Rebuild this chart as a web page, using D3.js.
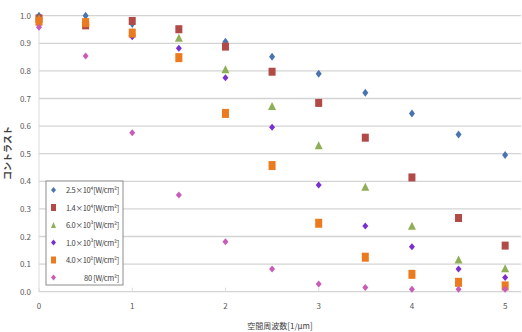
<!DOCTYPE html>
<html><head><meta charset="utf-8">
<script src="https://cdn.jsdelivr.net/npm/d3@7"></script>
<style>body{margin:0;background:#fff}svg{display:block}text{font-family:"Noto Sans CJK JP","Noto Sans",sans-serif}</style>
</head><body><svg id="c" width="522" height="332"></svg>
<script>
const freqs = [0, 0.5, 1, 1.5, 2, 2.5, 3, 3.5, 4, 4.5, 5];
const s25e4 = [1.00, 1.00, 0.97, 0.95, 0.906, 0.851, 0.790, 0.721, 0.646, 0.570, 0.495];
const s14e4 = [0.99, 0.965, 0.981, 0.951, 0.888, 0.797, 0.684, 0.558, 0.414, 0.267, 0.167];
const s60e3 = [0.99, 0.98, 0.94, 0.920, 0.806, 0.673, 0.531, 0.380, 0.239, 0.117, 0.085];
const s10e3 = [0.97, 0.98, 0.924, 0.882, 0.775, 0.596, 0.387, 0.238, 0.163, 0.082, 0.051];
const s40e2 = [0.98, 0.975, 0.937, 0.848, 0.646, 0.457, 0.248, 0.125, 0.063, 0.034, 0.021];
const s80 = [0.958, 0.854, 0.576, 0.350, 0.181, 0.082, 0.028, 0.015, 0.009, 0.009, 0.009];
const seriesNames = ["2.5×10⁴[W/cm²]", "1.4×10⁴[W/cm²]", "6.0×10³[W/cm²]", "1.0×10³[W/cm²]", "4.0×10²[W/cm²]", "80 [W/cm²]"];
const yTicks = [0, 0.1, 0.2, 0.3, 0.4, 0.5, 0.6, 0.7, 0.8, 0.9, 1.0];
const xTicks = [0, 1, 2, 3, 4, 5];
const xTitle = "空間周波数[1/μm]";
const yTitle = "コントラスト";

const series = [
  {name: seriesNames[0], vals: s25e4, color: "#4a74b0", shape: "diamond", w: 6, h: 8},
  {name: seriesNames[1], vals: s14e4, color: "#b24a48", shape: "rect", w: 7, h: 8},
  {name: seriesNames[2], vals: s60e3, color: "#8faf56", shape: "tri", w: 8, h: 8},
  {name: seriesNames[3], vals: s10e3, color: "#7a2fd0", shape: "diamond", w: 6, h: 7},
  {name: seriesNames[4], vals: s40e2, color: "#ec7a1e", shape: "rect", w: 7, h: 9},
  {name: seriesNames[5], vals: s80, color: "#c85cb8", shape: "diamond", w: 6, h: 7}
];

const svg = d3.select("#c");
const x = d3.scaleLinear().domain([0, 5.17]).range([39, 521]);
const y = d3.scaleLinear().domain([0, 1]).range([291.7, 15.7]);

svg.append("g").selectAll("line").data(yTicks).join("line")
  .attr("x1", x(0)).attr("x2", 521)
  .attr("y1", d => y(d)).attr("y2", d => y(d))
  .attr("stroke", "#d4d4d4").attr("stroke-width", 1.3);
svg.append("line").attr("x1", x(0)).attr("x2", x(0)).attr("y1", y(1)).attr("y2", y(0))
  .attr("stroke", "#dcdcdc").attr("stroke-width", 1);

svg.append("g").selectAll("text").data(yTicks).join("text")
  .attr("x", 31).attr("y", d => y(d) + 3)
  .attr("text-anchor", "end").attr("font-size", 8).attr("fill", "#595959")
  .text(d => d3.format(".1f")(d));
svg.append("g").selectAll("text").data(xTicks).join("text")
  .attr("x", d => x(d)).attr("y", 309)
  .attr("text-anchor", "middle").attr("font-size", 8).attr("fill", "#595959")
  .text(d => d);
svg.append("g").selectAll("line").data(xTicks).join("line")
  .attr("x1", d => x(d)).attr("x2", d => x(d)).attr("y1", y(0)-4).attr("y2", y(0))
  .attr("stroke", "#dcdcdc");

svg.append("text").attr("x", 280).attr("y", 329).attr("text-anchor", "middle")
  .attr("font-size", 8).attr("fill", "#404040").text(xTitle);
svg.append("text").attr("transform", "translate(11,153) rotate(-90)").attr("text-anchor", "middle")
  .attr("font-size", 9).attr("font-weight", "bold").attr("fill", "#404040").text(yTitle);

function drawMarker(g, s, cx, cy) {
  if (s.shape === "diamond") {
    g.append("path").attr("d", `M${cx},${cy - s.h/2}L${cx + s.w/2},${cy}L${cx},${cy + s.h/2}L${cx - s.w/2},${cy}Z`).attr("fill", s.color);
  } else if (s.shape === "rect") {
    g.append("rect").attr("x", cx - s.w/2).attr("y", cy - s.h/2).attr("width", s.w).attr("height", s.h).attr("fill", s.color);
  } else {
    g.append("path").attr("d", `M${cx},${cy - s.h/2}L${cx + s.w/2},${cy + s.h/2}L${cx - s.w/2},${cy + s.h/2}Z`).attr("fill", s.color);
  }
}

const marks = svg.append("g");
series.forEach(s => {
  const g = marks.append("g");
  s.vals.forEach((v, i) => drawMarker(g, s, x(freqs[i]), y(v)));
});

const lg = svg.append("g");
lg.append("rect").attr("x", 46).attr("y", 181).attr("width", 77).attr("height", 104)
  .attr("fill", "#fff").attr("stroke", "#8c8c8c").attr("stroke-width", 1);
series.forEach((s, i) => {
  const cy = 190 + i * 17.5;
  const ls = Object.assign({}, s, {w: 5, h: s.shape === "rect" ? 7 : 6});
  drawMarker(lg, ls, 53.5, cy);
  lg.append("text").attr("x", 119).attr("y", cy + 3).attr("text-anchor", "end")
    .attr("font-size", 7.5).attr("fill", "#404040").attr("letter-spacing", -0.3).text(s.name);
});
</script></body></html>
